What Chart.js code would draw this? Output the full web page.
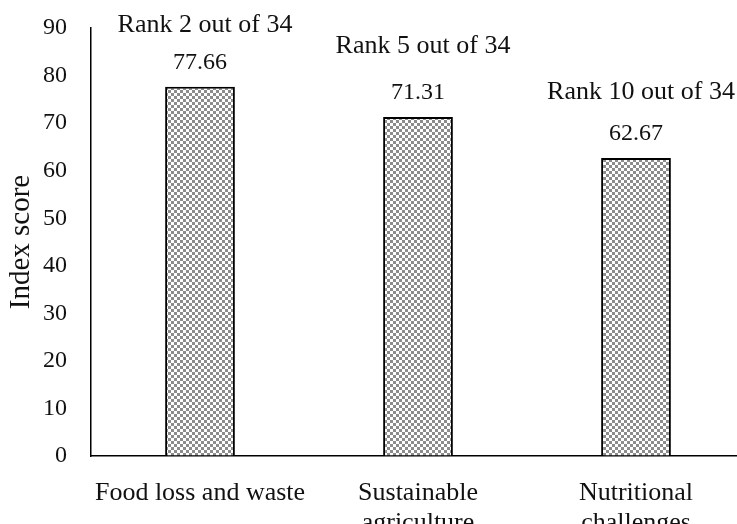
<!DOCTYPE html>
<html>
<head>
<meta charset="utf-8">
<script src="https://cdn.jsdelivr.net/npm/chart.js@4.4.1/dist/chart.umd.min.js"></script>
<style>
  html, body { margin: 0; padding: 0; background: #fff; overflow: hidden; }
  #wrap { width: 745px; height: 524px; }
</style>
</head>
<body>
<div id="wrap"><canvas id="chart" width="745" height="524"></canvas></div>
<script>
// ---------- Data ----------
const CATEGORIES = [['Food loss and waste'], ['Sustainable', 'agriculture'], ['Nutritional', 'challenges']];
const SCORES = [77.66, 71.31, 62.67];
const RANKS = ['Rank 2 out of 34', 'Rank 5 out of 34', 'Rank 10 out of 34'];
const Y_TICKS = [0, 10, 20, 30, 40, 50, 60, 70, 80, 90];

const FONT = '"Liberation Serif", "Times New Roman", serif';

// small grey/white checkerboard used as the bar fill
function checkerPattern(ctx) {
    const c = document.createElement('canvas');
    const s = 3;
    c.width = s * 2;
    c.height = s * 2;
    const g = c.getContext('2d');
    g.fillStyle = '#ffffff';
    g.fillRect(0, 0, s * 2, s * 2);
    g.fillStyle = '#8c8c8c';
    g.fillRect(0, 0, s, s);
    g.fillRect(s, s, s, s);
    return ctx.createPattern(c, 'repeat');
}

// value + rank text above each bar
const barLabels = {
    id: 'barLabels',
    afterDatasetsDraw(chart) {
        const ctx = chart.ctx;
        const meta = chart.getDatasetMeta(0);
        const rankGap = [62, 71, 66];
        ctx.save();
        ctx.fillStyle = '#111';
        ctx.textAlign = 'center';
        ctx.textBaseline = 'middle';
        meta.data.forEach((bar, i) => {
            ctx.font = '24px ' + FONT;
            ctx.fillText(SCORES[i].toFixed(2), bar.x, bar.y - 24);
            ctx.font = '26px ' + FONT;
            ctx.fillText(RANKS[i], bar.x + 5, bar.y - rankGap[i]);
        });
        ctx.restore();
    }
};

const canvas = document.getElementById('chart');
const ctx = canvas.getContext('2d');

new Chart(ctx, {
    type: 'bar',
    data: {
        labels: CATEGORIES,
        datasets: [{
            data: SCORES,
            backgroundColor: checkerPattern(ctx),
            borderColor: '#000',
            borderWidth: 2,
            borderSkipped: 'bottom',
            categoryPercentage: 1,
            barPercentage: 0.32
        }]
    },
    options: {
        responsive: false,
        animation: false,
        layout: { autoPadding: false, padding: { top: 28, right: 0, left: 0, bottom: 0 } },
        plugins: { legend: { display: false }, tooltip: { enabled: false } },
        scales: {
            x: {
                grid: { display: false, drawTicks: false },
                border: { color: '#000', width: 1.5 },
                ticks: { color: '#111', font: { family: FONT, size: 26, lineHeight: 1.15 }, padding: 22, maxRotation: 0 },
                afterFit(scale) { scale.height = 68; }
            },
            y: {
                min: 0,
                max: 90,
                afterBuildTicks(scale) { scale.ticks = Y_TICKS.map(v => ({ value: v })); },
                // invisible tick marks keep the label gap without padding the top
                grid: { drawOnChartArea: false, drawTicks: true, tickLength: 24, tickColor: 'rgba(0,0,0,0)' },
                border: { color: '#000', width: 1.5 },
                ticks: { color: '#111', font: { family: FONT, size: 24 }, padding: 0 },
                title: { display: true, text: 'Index score', color: '#111', font: { family: FONT, size: 29 }, padding: { top: 4, bottom: 0 } },
                afterFit(scale) { scale.width = 91; }
            }
        }
    },
    plugins: [barLabels]
});
</script>
</body>
</html>
